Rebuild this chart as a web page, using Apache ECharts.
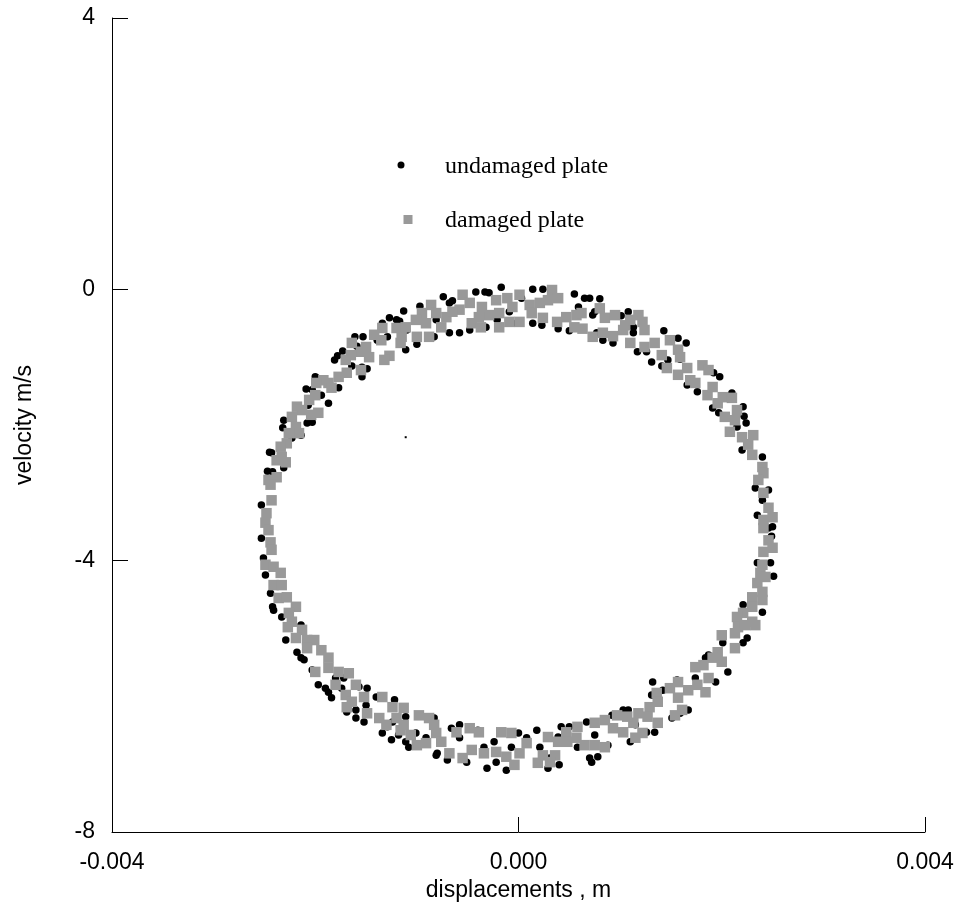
<!DOCTYPE html>
<html>
<head>
<meta charset="utf-8">
<script src="https://cdn.jsdelivr.net/npm/echarts@6/dist/echarts.min.js"></script>
<style>
html,body{margin:0;padding:0;background:#fff;}
#chart{width:961px;height:909px;}
</style>
</head>
<body>
<div id="chart"></div>
<script>
// ---- data (displacement m, velocity m/s) ----
const seriesNames = ['undamaged plate', 'damaged plate'];
const xTicks = [-0.004, 0.000, 0.004];
const yTicks = [-8, -4, 0, 4];

const undamagedPlate = [
[-0.00017,0.03],[-0.00033,-0.04],[-0.00029,-0.05],[-0.00042,-0.04],[-0.00074,-0.11],[-0.00068,-0.20],[-0.00065,-0.17],[-0.00097,-0.25],[-0.00113,-0.32],[-0.00127,-0.42],
[-0.00120,-0.45],[-0.00117,-0.47],[-0.00134,-0.50],[-0.00085,-0.22],[-0.00081,-0.45],[-0.00068,-0.64],[-0.00058,-0.64],[-0.00048,-0.60],[-0.00032,-0.56],[-0.00021,-0.45],
[-0.00009,-0.33],[-0.00002,-0.50],[-0.00111,-0.89],[-0.00100,-0.81],[-0.00083,-0.70],[-0.00110,-0.60],[-0.00129,-0.70],[-0.00139,-0.75],[-0.00153,-0.70],[-0.00161,-0.70],
[-0.00159,-0.84],[-0.00173,-0.91],[-0.00178,-0.98],[-0.00164,-1.13],[-0.00154,-1.15],[-0.00149,-1.17],[-0.00154,-1.29],[-0.00181,-1.04],[-0.00200,-1.29],[-0.00198,-1.31],
[-0.00209,-1.47],[-0.00203,-1.48],[-0.00194,-1.56],[-0.00187,-1.68],[-0.00177,-1.45],[-0.00207,-1.71],[-0.00208,-1.97],[-0.00203,-1.96],[-0.00231,-1.93],[-0.00232,-2.04],
[-0.00223,-2.19],[-0.00214,-2.15],[-0.00245,-2.40],[-0.00243,-2.41],[-0.00247,-2.68],[-0.00242,-2.69],[-0.00231,-2.63],[-0.00253,-3.18],
[0.00014,0.00],[0.00024,0.00],[0.00003,-0.13],[0.00055,-0.07],[0.00065,-0.13],[0.00070,-0.13],[0.00080,-0.14],[0.00059,-0.26],[0.00073,-0.38],[0.00075,-0.33],
[0.00101,-0.39],[0.00108,-0.33],[0.00113,-0.56],[0.00113,-0.64],[0.00014,-0.50],[0.00023,-0.53],[0.00039,-0.58],[0.00050,-0.61],[0.00077,-0.64],[0.00083,-0.75],
[0.00093,-0.79],[0.00143,-0.61],[0.00157,-0.72],[0.00165,-0.79],[0.00131,-1.07],[0.00141,-1.13],[0.00147,-1.04],[0.00159,-1.03],[0.00117,-0.92],[0.00126,-0.92],
[0.00166,-1.41],[0.00176,-1.51],[0.00192,-1.23],[0.00198,-1.29],[0.00210,-1.53],[0.00221,-1.73],[0.00222,-1.87],[0.00224,-1.97],[0.00191,-1.75],[0.00197,-1.82],
[0.00215,-2.03],[0.00220,-2.37],[0.00240,-2.47],[0.00226,-2.27],[0.00233,-2.93],[0.00246,-2.96],[0.00240,-3.11],[0.00235,-3.33],[0.00250,-3.50],
[-0.00253,-3.67],[-0.00251,-3.96],[-0.00249,-4.21],[-0.00244,-4.48],[-0.00242,-4.68],[-0.00241,-4.73],[-0.00233,-4.83],[-0.00214,-4.95],[-0.00229,-5.17],[-0.00218,-5.35],
[-0.00214,-5.43],[-0.00211,-5.46],[-0.00203,-5.61],[-0.00197,-5.83],[-0.00190,-5.88],[-0.00187,-5.94],[-0.00184,-6.02],[-0.00180,-5.73],[-0.00172,-5.73],[-0.00174,-5.88],
[-0.00157,-5.86],[-0.00149,-5.88],[-0.00160,-6.20],[-0.00169,-6.23],[-0.00160,-6.32],[-0.00150,-6.13],[-0.00152,-6.38],[-0.00140,-6.01],[-0.00134,-6.54],[-0.00125,-6.64],
[-0.00118,-6.57],[-0.00111,-6.67],[-0.00108,-6.75],[-0.00122,-6.05],[-0.00111,-6.30],[-0.00101,-6.54],[-0.00091,-6.61],[-0.00081,-6.87],[-0.00080,-6.84],[-0.00070,-6.94],
[-0.00058,-6.42],[-0.00066,-6.47],[-0.00058,-6.61],[-0.00051,-6.97],[-0.00040,-6.50],[-0.00034,-6.75],[-0.00031,-7.06],[-0.00024,-6.67],[-0.00022,-6.97],[-0.00012,-7.09],
[-0.00007,-6.75],[-0.00083,-6.32],[-0.00124,-6.38],[-0.00129,-6.45],
[0.00246,-3.52],[0.00249,-3.64],[0.00235,-4.03],[0.00248,-4.03],[0.00251,-4.23],[0.00240,-4.76],[0.00221,-4.65],[0.00200,-5.10],[0.00201,-5.21],[0.00221,-5.21],[0.00225,-5.14],[0.00187,-5.39],
[0.00184,-5.43],[0.00206,-5.64],[0.00194,-5.79],[0.00174,-5.73],[0.00156,-5.76],[0.00142,-5.91],[0.00131,-5.98],[0.00132,-5.79],[0.00167,-6.20],[0.00159,-6.25],
[0.00151,-6.32],[0.00134,-6.53],[0.00126,-6.53],[0.00115,-6.42],[0.00108,-6.20],[0.00103,-6.20],[0.00092,-6.28],[0.00110,-6.67],[0.00088,-6.72],[0.00078,-6.89],
[0.00070,-6.91],[0.00072,-6.97],[0.00067,-6.38],[0.00075,-6.57],[0.00058,-6.75],[0.00050,-6.45],[0.00042,-6.45],[0.00039,-6.60],[0.00040,-7.01],[0.00029,-7.06],
[0.00031,-6.91],[0.00021,-6.75],[0.00018,-6.50],[0.00008,-6.61],[0.00000,-6.54]
];

const damagedPlate = [
[-0.00055,-0.08],[-0.00048,-0.20],[-0.00058,-0.30],[-0.00036,-0.26],[-0.00022,-0.16],[-0.00011,-0.13],[-0.00006,-0.26],[-0.00019,-0.35],[-0.00029,-0.38],[-0.00039,-0.41],
[-0.00046,-0.50],[-0.00037,-0.56],[-0.00019,-0.56],[-0.00009,-0.48],[-0.00086,-0.23],[-0.00095,-0.35],[-0.00101,-0.45],[-0.00091,-0.50],[-0.00081,-0.35],[-0.00071,-0.41],
[-0.00065,-0.33],[-0.00076,-0.56],[-0.00088,-0.70],[-0.00100,-0.70],[-0.00115,-0.70],[-0.00116,-0.79],[-0.00120,-0.57],[-0.00111,-0.56],[-0.00134,-0.57],[-0.00142,-0.67],
[-0.00135,-0.75],[-0.00150,-0.85],[-0.00164,-0.79],[-0.00155,-0.92],[-0.00165,-0.97],[-0.00170,-1.04],[-0.00147,-1.00],[-0.00127,-0.98],[-0.00132,-1.04],[-0.00155,-1.19],
[-0.00169,-1.23],[-0.00177,-1.29],[-0.00187,-1.38],[-0.00192,-1.34],[-0.00184,-1.45],[-0.00199,-1.38],[-0.00200,-1.56],[-0.00206,-1.63],[-0.00218,-1.73],[-0.00213,-1.78],
[-0.00197,-1.82],[-0.00204,-1.85],[-0.00223,-1.88],[-0.00219,-2.03],[-0.00216,-2.12],[-0.00226,-2.12],[-0.00228,-2.27],[-0.00234,-2.32],[-0.00233,-2.47],[-0.00229,-2.55],
[-0.00238,-2.52],[-0.00246,-2.81],[-0.00238,-2.77],[-0.00244,-2.88],[-0.00243,-3.11],[-0.00248,-3.30],[-0.00249,-3.44],
[0.00001,-0.08],[0.00011,-0.23],[0.00021,-0.20],[0.00013,-0.35],[0.00024,-0.42],[0.00001,-0.48],[0.00033,-0.01],[0.00039,-0.13],[0.00029,-0.16],[0.00047,-0.41],
[0.00057,-0.38],[0.00062,-0.35],[0.00055,-0.56],[0.00063,-0.58],[0.00038,-0.48],[0.00073,-0.70],[0.00083,-0.64],[0.00093,-0.69],[0.00085,-0.42],[0.00080,-0.28],
[0.00095,-0.38],[0.00105,-0.53],[0.00110,-0.45],[0.00118,-0.38],[0.00122,-0.48],[0.00124,-0.60],[0.00103,-0.60],[0.00110,-0.79],[0.00124,-0.85],[0.00134,-0.79],
[0.00141,-0.97],[0.00146,-1.16],[0.00149,-0.75],[0.00157,-0.89],[0.00159,-1.00],[0.00166,-1.16],[0.00157,-1.26],[0.00169,-1.34],[0.00181,-1.12],[0.00187,-1.19],
[0.00174,-1.38],[0.00186,-1.56],[0.00191,-1.44],[0.00196,-1.68],[0.00201,-1.59],[0.00210,-1.60],[0.00203,-1.88],[0.00215,-1.78],[0.00213,-1.93],[0.00208,-2.10],
[0.00220,-2.18],[0.00231,-2.15],[0.00226,-2.29],[0.00230,-2.44],[0.00240,-2.62],[0.00241,-2.71],[0.00236,-2.81],[0.00241,-3.00],[0.00246,-3.22],[0.00241,-3.40],[0.00250,-3.36],
[-0.00246,-3.55],[-0.00244,-3.73],[-0.00243,-3.84],[-0.00249,-4.06],[-0.00241,-4.09],[-0.00234,-4.18],[-0.00241,-4.36],[-0.00233,-4.36],[-0.00236,-4.55],[-0.00228,-4.54],
[-0.00219,-4.68],[-0.00226,-4.77],[-0.00223,-4.90],[-0.00227,-4.98],[-0.00213,-5.02],[-0.00219,-5.14],[-0.00208,-5.17],[-0.00201,-5.17],[-0.00194,-5.32],[-0.00208,-5.29],
[-0.00200,-5.64],[-0.00187,-5.43],[-0.00187,-5.58],[-0.00177,-5.64],[-0.00167,-5.66],[-0.00180,-5.83],[-0.00160,-5.83],[-0.00170,-5.98],[-0.00152,-6.01],[-0.00164,-6.08],
[-0.00169,-6.16],[-0.00134,-6.01],[-0.00124,-6.16],[-0.00113,-6.17],[-0.00149,-6.25],[-0.00137,-6.32],[-0.00130,-6.42],[-0.00120,-6.32],[-0.00113,-6.42],[-0.00116,-6.50],
[-0.00106,-6.57],[-0.00098,-6.28],[-0.00088,-6.32],[-0.00100,-6.72],[-0.00091,-6.69],[-0.00083,-6.42],[-0.00081,-6.54],[-0.00076,-6.67],[-0.00068,-6.84],[-0.00061,-6.53],
[-0.00055,-6.91],[-0.00048,-6.47],[-0.00039,-6.53],[-0.00046,-6.79],[-0.00034,-6.84],[-0.00022,-6.82],[-0.00017,-6.53],[-0.00012,-6.89],[-0.00004,-7.01],[-0.00007,-6.54],
[0.00241,-3.52],[0.00246,-3.70],[0.00241,-3.87],[0.00250,-3.81],[0.00240,-4.06],[0.00238,-4.18],[0.00243,-4.24],[0.00235,-4.33],[0.00240,-4.46],[0.00230,-4.54],
[0.00240,-4.58],[0.00230,-4.68],[0.00221,-4.77],[0.00230,-4.90],[0.00215,-4.83],[0.00216,-4.98],[0.00223,-4.95],[0.00233,-4.95],[0.00213,-5.07],[0.00200,-5.10],
[0.00213,-5.29],[0.00196,-5.35],[0.00200,-5.49],[0.00191,-5.43],[0.00182,-5.54],[0.00174,-5.57],[0.00187,-5.73],[0.00176,-5.83],[0.00184,-5.94],[0.00167,-5.91],
[0.00157,-5.79],[0.00149,-5.88],[0.00157,-6.02],[0.00161,-6.20],[0.00154,-6.28],[0.00136,-5.95],[0.00137,-6.08],[0.00129,-6.16],[0.00118,-6.25],[0.00127,-6.30],
[0.00137,-6.39],[0.00122,-6.54],[0.00113,-6.39],[0.00115,-6.61],[0.00107,-6.30],[0.00097,-6.28],[0.00093,-6.47],[0.00085,-6.35],[0.00075,-6.39],[0.00103,-6.53],
[0.00075,-6.72],[0.00085,-6.75],[0.00065,-6.72],[0.00057,-6.61],[0.00058,-6.45],[0.00047,-6.53],[0.00039,-6.67],[0.00048,-6.67],[0.00029,-6.60],[0.00036,-6.87],
[0.00024,-6.87],[0.00019,-6.98],[0.00008,-6.69],[0.00001,-6.84],[0.00031,-6.97]
];

const strayPoint = [[-0.00111,-2.18]];

// ---- chart ----
const chart = echarts.init(document.getElementById('chart'), null, {renderer: 'canvas'});
const sans = 'Liberation Sans, Arial, sans-serif';
const serif = 'Liberation Serif, Times New Roman, serif';
const gray = '#999999';

chart.setOption({
  animation: false,
  backgroundColor: '#ffffff',
  grid: {left: 112, right: 36, top: 18, bottom: 77, containLabel: false},
  graphic: [
    {type: 'circle', shape: {cx: 401, cy: 165, r: 3.5}, style: {fill: '#000'}},
    {type: 'text', left: 445, top: 155,
      style: {text: seriesNames[0], font: '24px ' + serif, fill: '#000'}},
    {type: 'rect', shape: {x: 403.5, y: 215, width: 9, height: 9}, style: {fill: gray}},
    {type: 'text', left: 445, top: 209,
      style: {text: seriesNames[1], font: '24px ' + serif, fill: '#000'}}
  ],
  xAxis: {
    type: 'value',
    min: xTicks[0], max: xTicks[xTicks.length - 1], interval: 0.004,
    name: 'displacements , m',
    nameLocation: 'middle', nameGap: 44,
    nameTextStyle: {fontFamily: sans, fontSize: 23, color: '#000'},
    axisLine: {show: true, onZero: false, lineStyle: {color: '#000', width: 1}},
    axisTick: {show: true, inside: true, length: 15, lineStyle: {color: '#000'}},
    axisLabel: {fontFamily: sans, fontSize: 23, color: '#000', margin: 19,
      formatter: v => v.toFixed(3)},
    splitLine: {show: false}
  },
  yAxis: {
    type: 'value',
    min: yTicks[0], max: yTicks[yTicks.length - 1], interval: 4,
    name: 'velocity m/s',
    nameLocation: 'middle', nameGap: 76, nameRotate: 90,
    nameTextStyle: {fontFamily: sans, fontSize: 23, color: '#000'},
    axisLine: {show: true, onZero: false, lineStyle: {color: '#000', width: 1}},
    axisTick: {show: true, inside: true, length: 16, lineStyle: {color: '#000'}},
    axisLabel: {fontFamily: sans, fontSize: 23, color: '#000', margin: 17},
    splitLine: {show: false}
  },
  series: [
    {
      name: seriesNames[0], type: 'scatter', data: undamagedPlate,
      symbol: 'circle', symbolSize: 7.5,
      itemStyle: {color: '#000000', opacity: 1}, z: 2
    },
    {
      name: seriesNames[1], type: 'scatter', data: damagedPlate,
      symbol: 'rect', symbolSize: 10.5,
      itemStyle: {color: gray, opacity: 1}, z: 3
    },
    {
      name: 'stray', type: 'scatter', data: strayPoint,
      symbol: 'rect', symbolSize: 2,
      itemStyle: {color: '#000000', opacity: 1}, z: 3, silent: true
    }
  ]
});
</script>
</body>
</html>
